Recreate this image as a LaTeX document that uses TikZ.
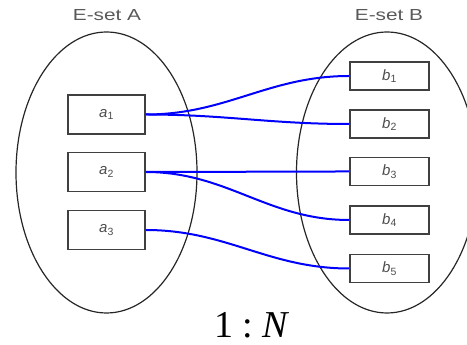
\documentclass[tikz,border=0pt]{standalone}
\usepackage{fontspec}
\usepackage{tikz}
\usetikzlibrary{shapes.geometric}
\newfontfamily\labelfont{Liberation Sans}
\newfontfamily\ratiofont{Liberation Serif}

\tikzset{
	eset/.style={draw=black!85, line width=1.2pt, ellipse, minimum width=181pt, minimum height=281pt},
	ebox/.style={draw=black!75, line width=1.6pt, rectangle, inner sep=0pt},
	abox/.style={ebox, minimum width=77pt, minimum height=39pt},
	bbox/.style={ebox, minimum width=79pt, minimum height=28pt},
	elabel/.style={text=black!65, font=\labelfont\fontsize{16}{16}\selectfont, xscale=1.3},
	link/.style={draw=blue, line width=2pt, out=0, in=180},
}
\newcommand{\boxtext}[2]{\textcolor{black!70}{\labelfont\fontsize{15}{15}\selectfont\textit{#1}\textsubscript{#2}}}

\begin{document}
\begin{tikzpicture}[x=1pt, y=1pt]
		\useasboundingbox (0, 0) rectangle (467, 345);
		\clip (0, 0) rectangle (467, 345);

		\node[elabel] at (107, 330) (la) {E-set A};
		\node[elabel] at (389, 330) (lb) {E-set B};

		\node[eset] at (106.5, 172.5) (A) {};
		\node[eset] at (387, 172.5) (B) {};

		\node[abox] at (106.5, 230.5) (a1) {\boxtext{a}{1}};
		\node[abox] at (106.5, 173) (a2) {\boxtext{a}{2}};
		\node[abox] at (106.5, 115) (a3) {\boxtext{a}{3}};

		\node[bbox] at (389.5, 269) (b1) {\boxtext{b}{1}};
		\node[bbox] at (389.5, 221) (b2) {\boxtext{b}{2}};
		\node[bbox] at (389.5, 173.5) (b3) {\boxtext{b}{3}};
		\node[bbox] at (389.5, 125) (b4) {\boxtext{b}{4}};
		\node[bbox] at (389.5, 76.5) (b5) {\boxtext{b}{5}};

		\draw[link] (a1.east) to (b1.west);
		\draw[link] (a1.east) to (b2.west);
		\draw[link] (a2.east) to (b3.west);
		\draw[link] (a2.east) to (b4.west);
		\draw[link] (a3.east) to (b5.west);

		\node at (252, 20) (ratio) {\ratiofont\fontsize{38}{38}\selectfont 1\hspace{0.25em}:\hspace{0.25em}\textit{N}};
	\end{tikzpicture}
\end{document}
